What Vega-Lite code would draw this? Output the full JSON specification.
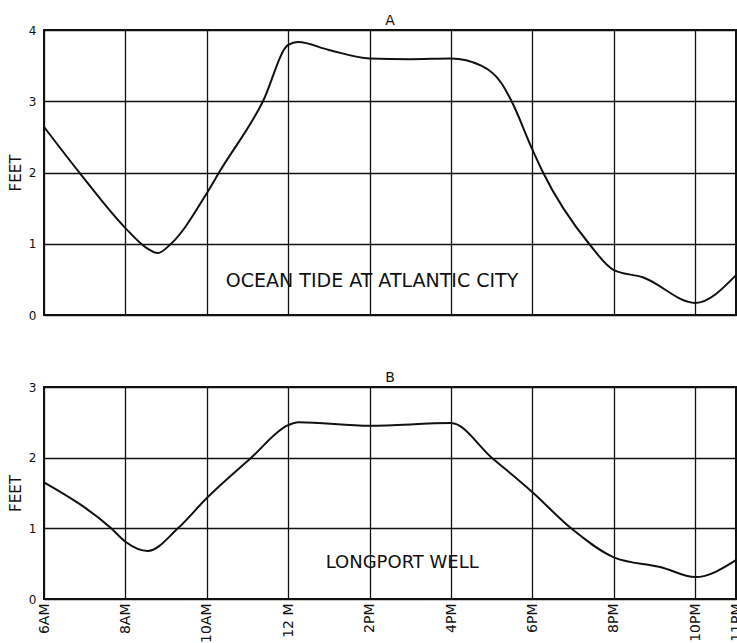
{
  "$schema": "https://vega.github.io/schema/vega-lite/v6.json",
  "background": "white",
  "padding": {"left": 7, "top": 13, "right": 0, "bottom": 0},
  "config": {
    "font": "DejaVu Sans",
    "view": {"stroke": "#111", "strokeWidth": 2},
    "axis": {"grid": true, "gridColor": "#111", "gridWidth": 1.3, "gridOpacity": 1, "domain": false, "ticks": false, "labelColor": "#111", "titleColor": "#111", "labelFont": "DejaVu Sans", "titleFont": "DejaVu Sans", "titleFontWeight": "normal"},
    "title": {"fontSize": 14, "fontWeight": "normal", "color": "#111", "offset": -4, "font": "DejaVu Sans"},
    "concat": {"spacing": 48}
  },
  "datasets": {
    "tideA": [
      {"hour": 6.0, "feet": 2.64}, {"hour": 6.84, "feet": 2.02}, {"hour": 8.0, "feet": 1.22},
      {"hour": 8.5, "feet": 0.95}, {"hour": 8.8, "feet": 0.87}, {"hour": 9.12, "feet": 1.0},
      {"hour": 10.0, "feet": 1.71}, {"hour": 10.3, "feet": 2.0}, {"hour": 11.38, "feet": 3.0},
      {"hour": 12.0, "feet": 3.79}, {"hour": 12.24, "feet": 3.83}, {"hour": 13.0, "feet": 3.72},
      {"hour": 14.0, "feet": 3.6}, {"hour": 15.0, "feet": 3.59}, {"hour": 16.0, "feet": 3.6},
      {"hour": 16.74, "feet": 3.5}, {"hour": 17.23, "feet": 3.26}, {"hour": 17.47, "feet": 3.02},
      {"hour": 18.0, "feet": 2.32}, {"hour": 18.26, "feet": 2.0}, {"hour": 19.39, "feet": 1.0},
      {"hour": 20.0, "feet": 0.63}, {"hour": 20.71, "feet": 0.53}, {"hour": 22.0, "feet": 0.17},
      {"hour": 23.0, "feet": 0.56}
    ],
    "tideB": [
      {"hour": 6.0, "feet": 1.65}, {"hour": 7.65, "feet": 1.0}, {"hour": 8.0, "feet": 0.81},
      {"hour": 8.55, "feet": 0.68}, {"hour": 9.29, "feet": 1.0}, {"hour": 10.0, "feet": 1.43},
      {"hour": 11.09, "feet": 2.0}, {"hour": 12.0, "feet": 2.46}, {"hour": 12.25, "feet": 2.5},
      {"hour": 14.0, "feet": 2.45}, {"hour": 16.0, "feet": 2.49}, {"hour": 17.0, "feet": 2.0},
      {"hour": 18.0, "feet": 1.51}, {"hour": 18.95, "feet": 1.0}, {"hour": 20.0, "feet": 0.59},
      {"hour": 21.16, "feet": 0.45}, {"hour": 22.0, "feet": 0.31}, {"hour": 23.0, "feet": 0.55}
    ],
    "labelA": [{"hour": 14.06, "feet": 0.48, "text": "OCEAN TIDE AT ATLANTIC CITY"}],
    "labelB": [{"hour": 14.8, "feet": 0.51, "text": "LONGPORT WELL"}]
  },
  "vconcat": [
    {
      "width": 692,
      "height": 285,
      "title": {"text": "A"},
      "layer": [
        {
          "data": {"name": "tideA"},
          "mark": {"type": "line", "interpolate": "monotone", "color": "#111", "strokeWidth": 2},
          "encoding": {
            "x": {"field": "hour", "type": "quantitative", "scale": {"domain": [6, 23], "nice": false},
              "axis": {"values": [6, 8, 10, 12, 14, 16, 18, 20, 22], "labels": false, "title": null}},
            "y": {"field": "feet", "type": "quantitative", "scale": {"domain": [0, 4], "nice": false},
              "axis": {"values": [0, 1, 2, 3, 4], "format": "d", "title": "FEET", "titleFontSize": 15, "labelFontSize": 12, "labelPadding": 8, "titlePadding": 5}}
          }
        },
        {
          "data": {"name": "labelA"},
          "mark": {"type": "text", "fontSize": 19, "align": "center", "baseline": "middle", "color": "#111"},
          "encoding": {
            "x": {"field": "hour", "type": "quantitative"},
            "y": {"field": "feet", "type": "quantitative"},
            "text": {"field": "text"}
          }
        }
      ]
    },
    {
      "width": 692,
      "height": 212,
      "title": {"text": "B"},
      "layer": [
        {
          "data": {"name": "tideB"},
          "mark": {"type": "line", "interpolate": "monotone", "color": "#111", "strokeWidth": 2},
          "encoding": {
            "x": {"field": "hour", "type": "quantitative", "scale": {"domain": [6, 23], "nice": false},
              "axis": {"values": [6, 8, 10, 12, 14, 16, 18, 20, 22, 23], "title": null, "labelAngle": 270, "labelFontSize": 14, "labelPadding": 4,
                "labelExpr": "datum.value == 6 ? '6AM' : datum.value == 8 ? '8AM' : datum.value == 10 ? '10AM' : datum.value == 12 ? '12 M' : datum.value == 14 ? '2PM' : datum.value == 16 ? '4PM' : datum.value == 18 ? '6PM' : datum.value == 20 ? '8PM' : datum.value == 22 ? '10PM' : '11PM'"}},
            "y": {"field": "feet", "type": "quantitative", "scale": {"domain": [0, 3], "nice": false},
              "axis": {"values": [0, 1, 2, 3], "format": "d", "title": "FEET", "titleFontSize": 15, "labelFontSize": 12, "labelPadding": 8, "titlePadding": 5}}
          }
        },
        {
          "data": {"name": "labelB"},
          "mark": {"type": "text", "fontSize": 18, "align": "center", "baseline": "middle", "color": "#111"},
          "encoding": {
            "x": {"field": "hour", "type": "quantitative"},
            "y": {"field": "feet", "type": "quantitative"},
            "text": {"field": "text"}
          }
        }
      ]
    }
  ]
}
